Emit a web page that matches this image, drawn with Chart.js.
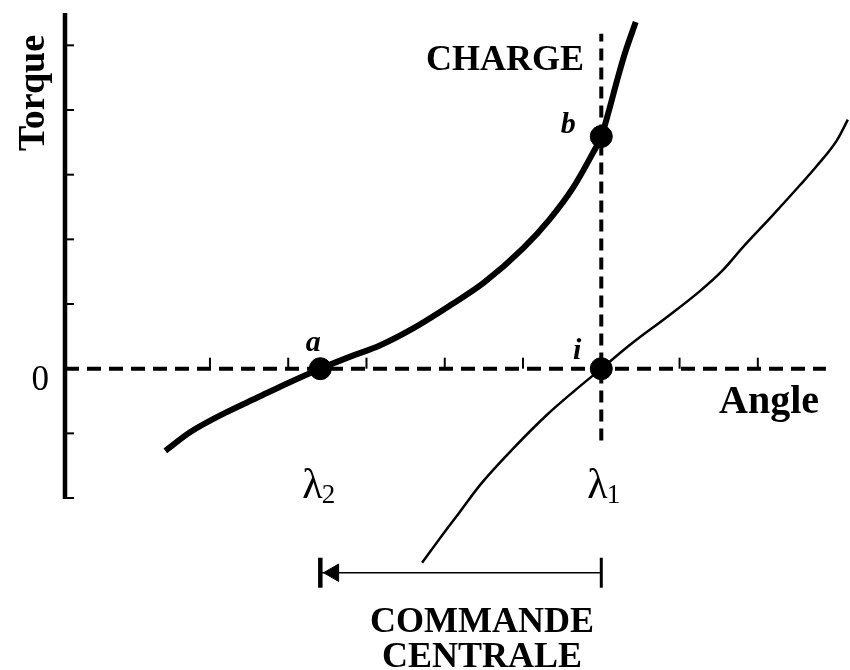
<!DOCTYPE html>
<html>
<head>
<meta charset="utf-8">
<script src="https://cdn.jsdelivr.net/npm/chart.js@4/dist/chart.umd.min.js"></script>
<style>
  html, body { margin: 0; padding: 0; background: #fff; }
  #wrap { width: 850px; height: 670px; position: relative; }
</style>
</head>
<body>
<div id="wrap"><canvas id="torqueChart"></canvas></div>
<script>
// Load curve (thick), passes through a and b
const loadAngle = [1.43, 1.75, 2.2, 2.6, 3.0, 3.41, 3.8, 4.17, 4.59, 5.07, 5.5, 6.0, 6.34, 6.64, 6.89, 7.0, 7.1, 7.2, 7.3, 7.44]
const loadTorque = [-1.27, -0.98, -0.68, -0.45, -0.22, 0, 0.19, 0.36, 0.62, 0.98, 1.33, 1.86, 2.31, 2.8, 3.33, 3.59, 4.0, 4.45, 4.87, 5.36]

// Motor curve (thin), crosses zero at i
const motorAngle = [4.71, 4.94, 5.19, 5.45, 5.87, 6.3, 6.64, 7.0, 7.4, 7.84, 8.26, 8.55, 8.81, 9.18, 9.54, 9.75, 10.01, 10.15]
const motorTorque = [-3.0, -2.62, -2.22, -1.8, -1.24, -0.72, -0.36, 0, 0.4, 0.8, 1.2, 1.52, 1.88, 2.36, 2.84, 3.13, 3.53, 3.85]

// Marked points a, b, i
const pointLabels = ["a", "b", "i"]
const pointAngle = [3.41, 7.0, 7.0]
const pointTorque = [0, 3.59, 0]

const lambda2 = 3.41
const lambda1 = 7.0
const chargeTop = 5.18
const chargeBottom = -1.11
const commandeLevel = -3.155
const zeroEnd = 9.87

const xTicks = [2, 3, 4, 5, 6, 7, 8, 9]
const yTicks = [-2, -1, 0, 1, 2, 3, 4, 5]

const X_MIN = 0.148
const X_MAX = 10.05
const Y_MIN = -3.6
const Y_MAX = 5.5
const AXIS_BOTTOM = -2

const serif = "'Liberation Serif', 'DejaVu Serif', serif"

const toXY = (xs, ys) => xs.map((x, i) => ({ x: x, y: ys[i] }))

// axis, ticks and text
const decorPlugin = {
  id: "decor",
  beforeDatasetsDraw(chart) {
    const { ctx, scales } = chart
    const x = scales.x
    const y = scales.y
    const left = x.getPixelForValue(X_MIN)
    ctx.save()
    ctx.strokeStyle = "#000"
    // y axis line
    ctx.lineWidth = 4.5
    ctx.beginPath()
    ctx.moveTo(left, y.getPixelForValue(Y_MAX))
    ctx.lineTo(left, y.getPixelForValue(AXIS_BOTTOM) + 1)
    ctx.stroke()
    // inward ticks on y axis
    ctx.lineWidth = 2
    yTicks.forEach((v) => {
      const py = y.getPixelForValue(v)
      ctx.beginPath()
      ctx.moveTo(left, py)
      ctx.lineTo(left + 9, py)
      ctx.stroke()
    })
    // small upward ticks on the zero line
    const y0 = y.getPixelForValue(0)
    xTicks.forEach((v) => {
      const px = x.getPixelForValue(v)
      ctx.beginPath()
      ctx.moveTo(px, y0)
      ctx.lineTo(px, y0 - 11)
      ctx.stroke()
    })
    ctx.restore()
  },
  afterDraw(chart) {
    const { ctx, scales } = chart
    const x = scales.x
    const y = scales.y
    ctx.save()
    ctx.fillStyle = "#000"
    ctx.textBaseline = "alphabetic"

    // zero tick label
    ctx.textAlign = "right"
    ctx.font = "35px " + serif
    ctx.fillText("0", x.getPixelForValue(X_MIN) - 16, y.getPixelForValue(0) + 21)

    // Torque (rotated)
    ctx.save()
    ctx.translate(44, 93)
    ctx.rotate(-Math.PI / 2)
    ctx.textAlign = "center"
    ctx.font = "bold 38px " + serif
    ctx.fillText("Torque", 0, 0)
    ctx.restore()

    ctx.textAlign = "center"
    ctx.font = "bold 36px " + serif
    ctx.fillText("CHARGE", 505, 70)
    ctx.font = "bold 40px " + serif
    ctx.fillText("Angle", 769, 413)

    ctx.font = "bold 36px " + serif
    ctx.fillText("COMMANDE", 482, 632)
    ctx.fillText("CENTRALE", 482, 667)

    // point labels
    ctx.font = "italic bold 30px " + serif
    const offsets = [[-7, -18], [-33, -4], [-24, -10]]
    pointLabels.forEach((t, i) => {
      const px = x.getPixelForValue(pointAngle[i])
      const py = y.getPixelForValue(pointTorque[i])
      ctx.fillText(t, px + offsets[i][0], py + offsets[i][1])
    })

    // lambda labels
    const drawLambda = (px, sub) => {
      ctx.textAlign = "left"
      ctx.font = "42px " + serif
      ctx.fillText("\u03bb", px, 498)
      const w = ctx.measureText("\u03bb").width
      ctx.font = "27px " + serif
      ctx.fillText(sub, px + w - 1, 503)
    }
    drawLambda(x.getPixelForValue(lambda2) - 18, "2")
    drawLambda(x.getPixelForValue(lambda1) - 14, "1")
    ctx.restore()
  },
}

const ctxEl = document.getElementById("torqueChart")
const chart = new Chart(ctxEl, {
  type: "scatter",
  data: {
    datasets: [
      {
        label: "points",
        data: toXY(pointAngle, pointTorque),
        pointRadius: 11,
        pointBackgroundColor: "#000",
        pointBorderColor: "#000",
        showLine: false,
      },
      {
        label: "arrowhead",
        data: [{ x: lambda2 + 0.17, y: commandeLevel }],
        pointStyle: "triangle",
        pointRotation: -90,
        pointRadius: 10,
        pointBackgroundColor: "#000",
        pointBorderColor: "#000",
        pointBorderWidth: 1,
        showLine: false,
      },
      {
        label: "commande",
        data: [{ x: lambda2, y: commandeLevel }, { x: lambda1, y: commandeLevel }],
        showLine: true,
        borderColor: "#000",
        borderWidth: 1.5,
        pointStyle: "line",
        pointRotation: 90,
        pointRadius: 15,
        pointBorderWidth: [4.5, 3],
        pointBorderColor: "#000",
      },
      {
        label: "load",
        data: toXY(loadAngle, loadTorque),
        showLine: true,
        borderColor: "#000",
        borderWidth: 6,
        cubicInterpolationMode: "monotone",
        pointRadius: 0,
      },
      {
        label: "motor",
        data: toXY(motorAngle, motorTorque),
        showLine: true,
        borderColor: "#000",
        borderWidth: 2.5,
        cubicInterpolationMode: "monotone",
        pointRadius: 0,
      },
      {
        label: "charge",
        data: [{ x: lambda1, y: chargeBottom }, { x: lambda1, y: chargeTop }],
        showLine: true,
        borderColor: "#000",
        borderWidth: 4,
        borderDash: [12, 7],
        pointRadius: 0,
      },
      {
        label: "zero",
        data: [{ x: X_MIN, y: 0 }, { x: zeroEnd, y: 0 }],
        showLine: true,
        borderColor: "#000",
        borderWidth: 4,
        borderDash: [14, 8],
        pointRadius: 0,
      },
    ],
  },
  options: {
    responsive: true,
    maintainAspectRatio: false,
    animation: false,
    clip: false,
    layout: {
      autoPadding: false,
      padding: { top: 13, bottom: 68.5, left: 65, right: 10 },
    },
    plugins: {
      legend: { display: false },
      tooltip: { enabled: false },
    },
    scales: {
      x: {
        type: "linear",
        display: false,
        min: X_MIN,
        max: X_MAX,
      },
      y: {
        type: "linear",
        display: false,
        min: Y_MIN,
        max: Y_MAX,
      },
    },
  },
  plugins: [decorPlugin],
})
</script>
</body>
</html>
